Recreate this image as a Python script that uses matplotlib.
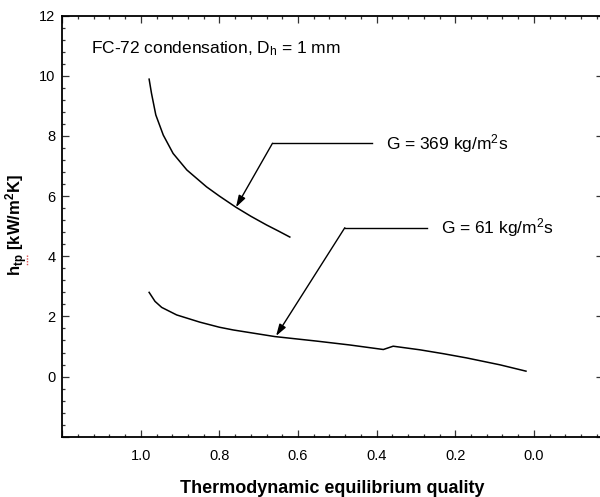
import numpy as np
import matplotlib
matplotlib.use('Agg')
import matplotlib.pyplot as plt
from matplotlib.lines import Line2D
from matplotlib.ticker import MultipleLocator

plt.rcParams['font.family'] = ['Liberation Sans', 'DejaVu Sans']
plt.rcParams['mathtext.fontset'] = 'custom'
plt.rcParams['mathtext.rm'] = 'Liberation Sans'
plt.rcParams['mathtext.it'] = 'Liberation Sans'
plt.rcParams['mathtext.bf'] = 'Liberation Sans:bold'

""" data read off the figure """

# G = 369 kg/m2s
x_g369 = [0.979, 0.973, 0.962, 0.943, 0.918, 0.883, 0.833, 0.800, 0.758,
          0.720, 0.680, 0.650, 0.621]
h_g369 = [9.89, 9.42, 8.70, 8.03, 7.42, 6.87, 6.31, 6.00, 5.63,
          5.33, 5.04, 4.84, 4.64]

# G = 61 kg/m2s
x_g61 = [0.979, 0.964, 0.947, 0.909, 0.850, 0.800, 0.765, 0.659, 0.553,
         0.468, 0.383, 0.358, 0.290, 0.230, 0.171, 0.086, 0.020]
h_g61 = [2.80, 2.50, 2.30, 2.05, 1.81, 1.64, 1.55, 1.33, 1.18,
         1.05, 0.90, 1.01, 0.89, 0.76, 0.62, 0.39, 0.18]

x_ticks = [1.2, 1.0, 0.8, 0.6, 0.4, 0.2, 0.0]
x_tick_labels = ['', '1.0', '0.8', '0.6', '0.4', '0.2', '0.0']
y_ticks = [-2, 0, 2, 4, 6, 8, 10, 12]
y_tick_labels = ['', '0', '2', '4', '6', '8', '10', '12']

""" annotation layout (data coords) """
lbl_369 = dict(tip=(0.758, 5.63), knee=(0.665, 7.76), end=(0.413, 7.76),
               text=(0.375, 7.76), s='G = 369 kg/m$^2$s')
lbl_61 = dict(tip=(0.656, 1.35), knee=(0.481, 4.95), end=(0.273, 4.95),
              text=(0.235, 4.95), s='G = 61 kg/m$^2$s')

fig = plt.figure(figsize=(6.0, 4.97), dpi=100)
ax = fig.add_axes([0.1038, 0.1213, 0.9012, 0.8471])

ax.plot(x_g369, h_g369, color='k', lw=1.1)
ax.plot(x_g61, h_g61, color='k', lw=1.1)

for lbl in (lbl_369, lbl_61):
    ax.plot([lbl['knee'][0], lbl['end'][0]], [lbl['knee'][1], lbl['end'][1]],
            color='k', lw=1.0)
    ax.annotate('', xy=lbl['tip'], xytext=lbl['knee'],
                arrowprops=dict(arrowstyle='-|>,head_length=0.7,head_width=0.22',
                                color='k', lw=1.0, mutation_scale=10,
                                shrinkA=0, shrinkB=0))
    ax.text(lbl['text'][0], lbl['text'][1], lbl['s'], fontsize=12.5,
            ha='left', va='center')

ax.text(1.128, 10.92, 'FC-72 condensation, D$_\\mathrm{h}$ = 1 mm',
        fontsize=12.5, ha='left', va='center')

ax.set_xlim(1.2, -0.176)
ax.set_ylim(-2, 12)

ax.set_xticks(x_ticks)
ax.set_xticklabels(x_tick_labels)
ax.set_yticks(y_ticks)
ax.set_yticklabels(y_tick_labels)
ax.xaxis.set_minor_locator(MultipleLocator(0.04))
ax.yaxis.set_minor_locator(MultipleLocator(0.4))

ax.tick_params(which='both', direction='in', top=True, right=True,
               labelsize=10.5, width=0.9, color='#333333')
ax.tick_params(which='major', length=4.8)
ax.tick_params(which='minor', length=2.0, right=False)
ax.tick_params(axis='x', which='major', pad=9)
ax.tick_params(axis='y', which='major', pad=5)

for side in ('left', 'bottom', 'top', 'right'):
    ax.spines[side].set_linewidth(1.3)

ax.set_xlabel('Thermodynamic equilibrium quality', fontsize=13,
              fontweight='bold', labelpad=12)
ax.set_ylabel(r'$\mathbf{h_{tp}\ [kW/m^{2}K]}$', fontsize=12)
ax.yaxis.set_label_coords(-0.059, 0.503)

# red spell-check squiggle under "tp" in the original
fig.add_artist(Line2D([27 / 600, 27 / 600], [1 - 255 / 497, 1 - 266 / 497],
                      color='#e05050', lw=1.0, ls=(0, (1, 1))))

fig.savefig('out.png', dpi=100)
